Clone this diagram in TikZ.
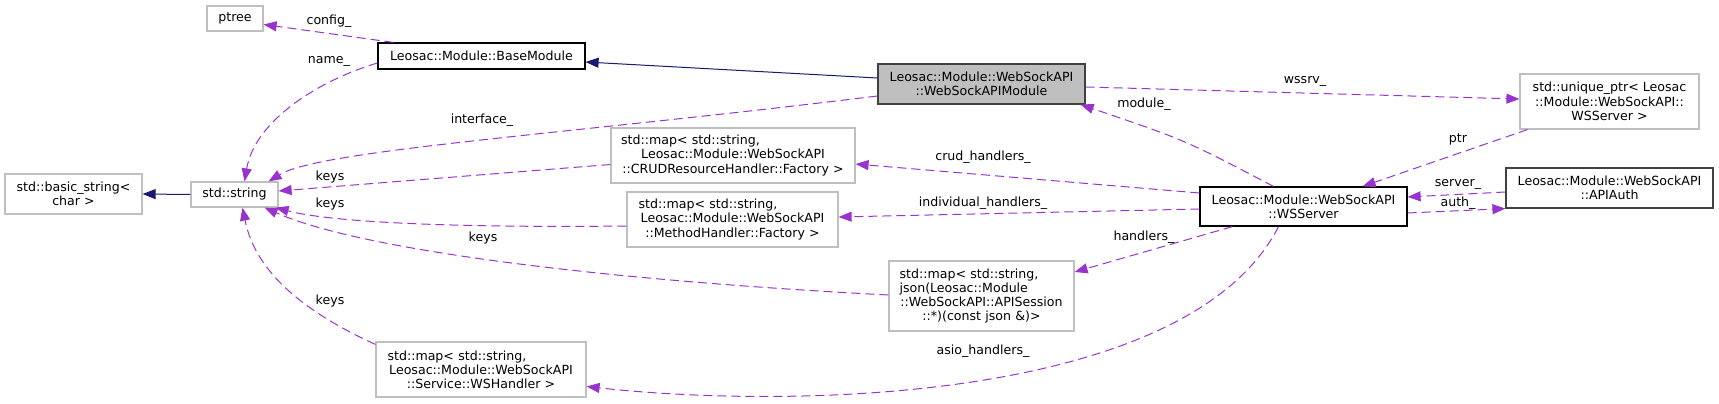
\documentclass[tikz,border=0pt]{standalone}
\usepackage{fontspec}
\setmainfont{DejaVu Sans}
\usetikzlibrary{arrows.meta,calc}
\definecolor{dxgrey}{RGB}{191,191,191}
\definecolor{dxdark}{RGB}{64,64,64}
\definecolor{dxorchid}{RGB}{154,50,205}
\definecolor{dxnavy}{RGB}{25,25,112}
\newcommand{\lline}[1]{\leavevmode\hbox to\hsize{#1\hfil}}

\begin{document}
\begin{tikzpicture}[x=1pt, y=-1pt,
  cls/.style={draw=dxgrey, line width=1.2pt, fill=white, inner sep=0pt,
              font=\fontsize{12.6}{14.2}\selectfont, align=center},
  docbox/.style={cls, draw=black},
  mainbox/.style={cls, draw=dxdark, fill=dxgrey},
  sz/.style 2 args={minimum width=#1pt, minimum height=#2pt},
  usage/.style={-{Triangle[length=13pt,width=10pt]}, dxorchid, line width=1pt,
                dash pattern=on 9pt off 5pt},
  inherit/.style={-{Triangle[length=13pt,width=10pt]}, dxnavy, line width=1pt},
  lbl/.style={font=\fontsize{12.6}{14.2}\selectfont, text=black, inner sep=0pt}
]
  \useasboundingbox (0,0) rectangle (1719,404);

  % classes
  \node[cls, sz={56}{25}]      (ptree) at (235,18.5)    {ptree};
  \node[docbox, sz={207}{26}]  (base)  at (481.5,56)    {Leosac::Module::BaseModule};
  \node[cls, sz={137}{40}]     (bstr)  at (73.5,194)    {std::basic\_string<\\char >};
  \node[cls, sz={87}{25}]      (str)   at (234.5,194.5) {std::string};
  \node[cls, sz={210}{55}, text width=187pt] (wsh) at (481,369.5)
    {\lline{std::map< std::string,}\\Leosac::Module::WebSockAPI\\::Service::WSHandler >};
  \node[mainbox, sz={207}{40}] (wsm)   at (981.5,84)    {Leosac::Module::WebSockAPI\\::WebSockAPIModule};
  \node[cls, sz={244}{55}, text width=224pt] (crud) at (733,155.5)
    {\lline{std::map< std::string,}\\Leosac::Module::WebSockAPI\\::CRUDResourceHandler::Factory >};
  \node[cls, sz={211}{55}, text width=188pt] (meth) at (732.5,219.5)
    {\lline{std::map< std::string,}\\Leosac::Module::WebSockAPI\\::MethodHandler::Factory >};
  \node[cls, sz={185}{70}, text width=164pt] (sess) at (981.5,296)
    {\lline{std::map< std::string,}\\\lline{json(Leosac::Module}\\::WebSockAPI::APISession\\::*)(const json \&)>};
  \node[cls, sz={179}{55}]     (uptr)  at (1609.5,101.5) {std::unique\_ptr< Leosac\\::Module::WebSockAPI::\\WSServer >};
  \node[cls, sz={207}{40}, draw=dxdark] (auth) at (1609.5,188) {Leosac::Module::WebSockAPI\\::APIAuth};
  \node[docbox, sz={207}{39}]  (srv)   at (1303.5,206.5) {Leosac::Module::WebSockAPI\\::WSServer};

  % inheritance
  \draw[inherit] (str.west) -- (bstr.east);
  \draw[inherit] ($(wsm.west)+(0,-6)$) -- ($(base.east)+(0,6)$);

  % members of BaseModule and WebSockAPIModule
  \draw[usage] ($(base.north west)+(16,0)$) -- ($(ptree.east)+(0,6)$)
    node[lbl] at (329,21) {config\_};
  \draw[usage] ($(base.west)+(0,7)$) .. controls (320,80) and (255,120) .. ($(str.north)+(10,0)$)
    node[lbl] at (329,61) {name\_};
  \draw[usage] ($(wsm.west)+(0,12)$) .. controls (560,135) and (320,150) .. ($(str.north east)+(-10,0)$)
    node[lbl] at (482,120) {interface\_};
  \draw[usage] ($(wsm.east)+(0,3)$) -- ($(uptr.west)+(0,-2.5)$)
    node[lbl] at (1305,81) {wssrv\_};

  % members of WSServer
  \draw[usage] ($(srv.north)+(-30,0)$) .. controls (1185,140) .. ($(wsm.south east)+(-5,0)$)
    node[lbl] at (1144,104) {module\_};
  \draw[usage] ($(uptr.south west)+(8,0)$) -- ($(srv.north east)+(-45,0)$)
    node[lbl] at (1458,139) {ptr};
  \draw[usage] ($(auth.west)+(0,4)$) -- ($(srv.east)+(0,-9.5)$)
    node[lbl] at (1458,184) {server\_};
  \draw[usage] ($(srv.east)+(0,6.5)$) -- (auth.south west)
    node[lbl] at (1458,203) {auth\_};
  \draw[usage] ($(srv.west)+(0,-13.5)$) -- ($(crud.east)+(0,8.5)$)
    node[lbl] at (983,157) {crud\_handlers\_};
  \draw[usage] ($(srv.west)+(0,2.5)$) -- ($(meth.east)+(0,-2.5)$)
    node[lbl] at (983,203) {individual\_handlers\_};
  \draw[usage] ($(srv.south west)+(33,0)$) -- ($(sess.east)+(0,-24)$)
    node[lbl] at (1144,237) {handlers\_};
  \draw[usage] ($(srv.south)+(-25,0)$) .. controls (1190,400) and (800,410) .. ($(wsh.east)+(0,17)$)
    node[lbl] at (983,351) {asio\_handlers\_};

  % keys
  \draw[usage] ($(crud.west)+(0,9)$) -- ($(str.east)+(0,-3.5)$)
    node[lbl] at (330,177) {keys};
  \draw[usage] ($(meth.west)+(0,6.5)$) .. controls (450,228) and (330,222) .. ($(str.south east)+(-3,0)$)
    node[lbl] at (330,204) {keys};
  \draw[usage] ($(sess.west)+(0,-1)$) .. controls (600,280) and (360,250) .. ($(str.south east)+(-14,0)$)
    node[lbl] at (483,238) {keys};
  \draw[usage] ($(wsh.north west)+(0,3)$) .. controls (300,310) and (255,270) .. ($(str.south)+(8,0)$)
    node[lbl] at (330,301) {keys};
\end{tikzpicture}
\end{document}
